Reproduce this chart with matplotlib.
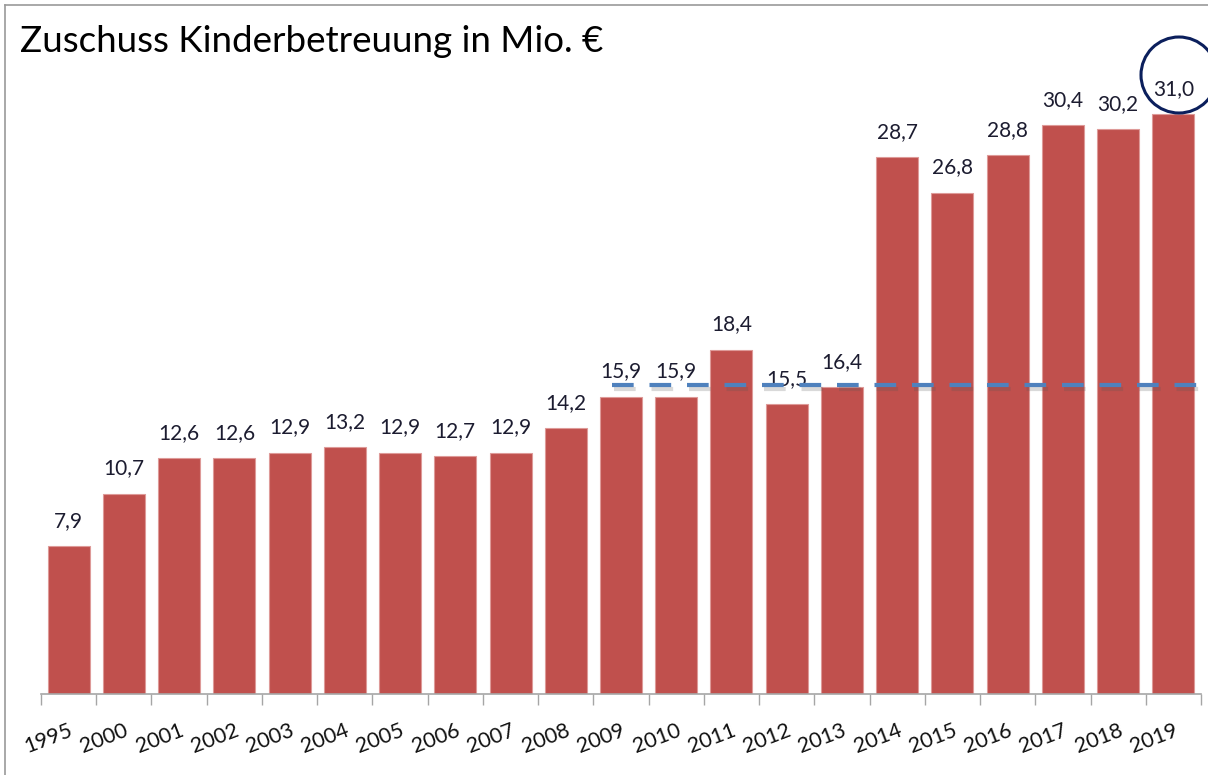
import matplotlib
matplotlib.use("Agg")
import matplotlib.pyplot as plt
from matplotlib import patheffects as pe
from matplotlib.patches import Ellipse
from matplotlib.lines import Line2D

years = ["1995", "2000", "2001", "2002", "2003", "2004", "2005", "2006", "2007",
         "2008", "2009", "2010", "2011", "2012", "2013", "2014", "2015", "2016",
         "2017", "2018", "2019"]
values = [7.9, 10.7, 12.6, 12.6, 12.9, 13.2, 12.9, 12.7, 12.9, 14.2, 15.9, 15.9,
          18.4, 15.5, 16.4, 28.7, 26.8, 28.8, 30.4, 30.2, 31.0]
reference_level = 16.5
title = "Zuschuss Kinderbetreuung in Mio. €"

plt.rcParams['font.family'] = ["Lato", "DejaVu Sans"]

W, H = 1208, 775
fig = plt.figure(figsize=(W / 100, H / 100), dpi=100)
ax = fig.add_axes([41 / W, 1 - 694 / H, (1201 - 41) / W, (694 - 40) / H])

x = list(range(len(years)))
ax.bar(x, values, width=0.76, color="#C0504D", edgecolor="#DE9A98", linewidth=0.8, zorder=2)
ax.set_xlim(-0.5, len(years) - 0.5)
ax.set_ylim(0, (694 - 40) / 18.71)

for xi, v in zip(x, values):
    ax.annotate(f"{v:.1f}".replace(".", ","), (xi, v), xytext=(0, 11), textcoords="offset points",
                ha="center", va="bottom", fontsize=15, color="#1c1c30", zorder=3)

# ticks at category boundaries
ax.set_xticks([i - 0.5 for i in range(len(years) + 1)], minor=False)
ax.set_xticklabels([])
ax.tick_params(axis="x", which="major", length=8, width=1, color="#A6A6A6")
ax.set_xticks(x, minor=True)
ax.set_xticklabels(years, minor=True, rotation=21, ha="right", rotation_mode="anchor",
                   fontsize=15.5, color="#111111")
ax.tick_params(axis="x", which="minor", length=0, pad=19)
ax.set_yticks([])
for s in ["left", "top", "right"]:
    ax.spines[s].set_visible(False)
ax.spines["bottom"].set_color("#A6A6A6")
ax.spines["bottom"].set_linewidth(1.2)

# dashed reference line
ax.plot([9.84, 20.65], [reference_level, reference_level], color="#4F81BD", linewidth=3.0,
        dashes=(5.2, 3.8), clip_on=False, zorder=4,
        path_effects=[pe.SimpleLineShadow(offset=(1, -2.5), alpha=0.22, shadow_color="#555555"), pe.Normal()])

# highlight circle
fig.patches.append(Ellipse((1179 / W, 1 - 75 / H), 76 / W, 76 / H, transform=fig.transFigure,
                           fill=False, edgecolor="#0B1F5C", linewidth=2.2, zorder=5))

# frame border lines
fig.add_artist(Line2D([5 / W, 5 / W], [0, 1 - 5 / H], transform=fig.transFigure, color="#9A9A9A", linewidth=1.2))
fig.add_artist(Line2D([5 / W, 1], [1 - 5 / H, 1 - 5 / H], transform=fig.transFigure, color="#9A9A9A", linewidth=1.2))

fig.text(20 / W, 1 - 25 / H, title, fontsize=26.5, ha="left", va="top", color="#000000")

fig.savefig("out.png", dpi=100)
